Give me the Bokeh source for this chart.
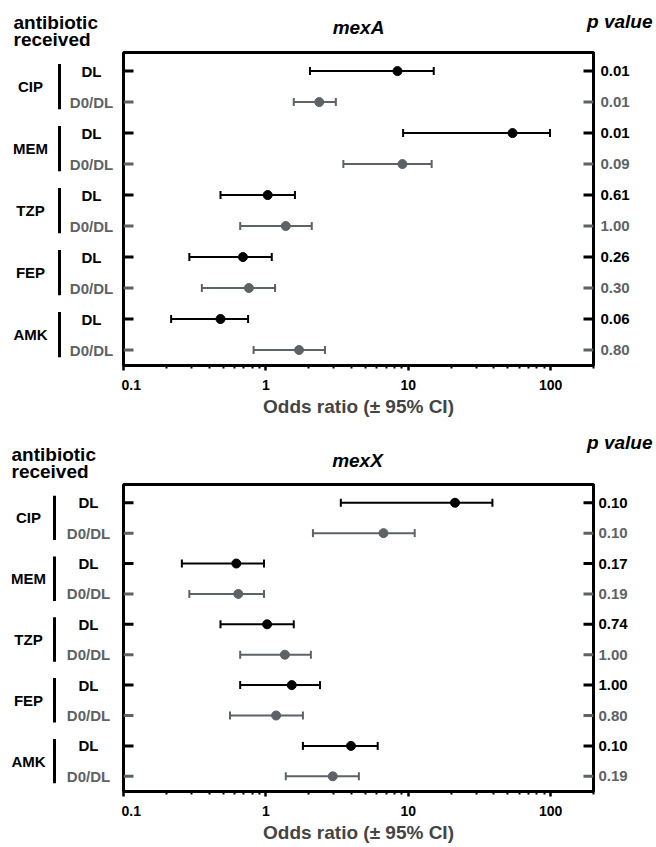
import math
from bokeh.plotting import figure
from bokeh.layouts import column, row
from bokeh.models import ColumnDataSource, Range1d, Whisker, TeeHead, FixedTicker
from bokeh.core.properties import value
from bokeh.embed import file_html
from bokeh.resources import INLINE

# ---------------- data ----------------
groups = ["CIP", "MEM", "TZP", "FEP", "AMK"]
row_labels = ["DL", "D0/DL", "DL", "D0/DL", "DL", "D0/DL", "DL", "D0/DL", "DL", "D0/DL"]

mexA_or = [8.4, 2.37, 54.0, 9.1, 1.03, 1.38, 0.69, 0.76, 0.48, 1.71]
mexA_lo = [2.04, 1.57, 9.2, 3.5, 0.48, 0.66, 0.29, 0.355, 0.216, 0.82]
mexA_hi = [15.1, 3.1, 99.0, 14.6, 1.6, 2.1, 1.1, 1.16, 0.75, 2.6]
mexA_p = ["0.01", "0.01", "0.01", "0.09", "0.61", "1.00", "0.26", "0.30", "0.06", "0.80"]

mexX_or = [21.3, 6.7, 0.62, 0.64, 1.02, 1.36, 1.52, 1.18, 3.96, 2.95]
mexX_lo = [3.36, 2.14, 0.257, 0.29, 0.48, 0.66, 0.66, 0.56, 1.82, 1.38]
mexX_hi = [39.0, 11.1, 0.97, 0.97, 1.57, 2.07, 2.4, 1.82, 6.1, 4.5]
mexX_p = ["0.10", "0.10", "0.17", "0.19", "0.74", "1.00", "1.00", "0.80", "0.10", "0.19"]

x_ticks = [0.1, 1, 10, 100]
x_tick_labels = ["0.1", "1", "10", "100"]
x_minor = [m * t for t in x_ticks for m in range(2, 10)]

# ---------------- style ----------------
FONT = "Liberation Sans"
BLACK = "#000000"
GRAY = "#5d6266"
W_TOTAL = 656
W_LAB, W_MAIN, W_PV = 121, 474, 61
B_TOP, B_BOT = 2, 55
X_LO, X_HI = 0.1, 200
Y_TOP, Y_BOT = -0.6, 9.5

rows_y = list(range(len(row_labels)))
row_colors = [BLACK if r == "DL" else GRAY for r in row_labels]


def base_fig(**kw):
    p = figure(toolbar_location=None, output_backend="svg", **kw)
    p.background_fill_color = "white"
    p.border_fill_color = "white"
    return p


def header(h, gene, x_anti, y_anti, y_rec, x_gene, y_gene, x_p, y_p):
    p = base_fig(width=W_TOTAL, height=h, x_range=Range1d(0, W_TOTAL), y_range=Range1d(h, 0),
                 x_axis_location=None, y_axis_location=None, min_border=0,
                 min_border_left=0, min_border_right=0, min_border_top=0, min_border_bottom=0)
    p.outline_line_color = None
    p.grid.visible = False
    common = dict(text_font=value(FONT), text_font_size="19px", text_color=BLACK, text_baseline="middle")
    p.text(x=[x_anti, x_anti], y=[y_anti, y_rec], text=["antibiotic", "received"], text_align="left",
           text_font_style="bold", **common)
    p.text(x=[x_gene], y=[y_gene], text=[gene], text_align="center",
           text_font_style="bold italic", **common)
    p.text(x=[x_p], y=[y_p], text=["p value"], text_align="right",
           text_font_style="bold italic", **common)
    return p


def panel(ors, los, his, pvals, frame_h, gx, bx, lx, px):
    H = B_TOP + frame_h + B_BOT
    yr = Range1d(Y_BOT, Y_TOP)

    # ----- left label column -----
    lab = base_fig(width=W_LAB, height=H, x_range=Range1d(0, W_LAB), y_range=yr,
                   x_axis_location=None, y_axis_location=None, min_border=0,
                   min_border_left=0, min_border_right=0, min_border_top=B_TOP, min_border_bottom=B_BOT)
    lab.outline_line_color = None
    lab.grid.visible = False
    gy = [2 * i + 0.5 for i in range(len(groups))]
    lab.text(x=[gx] * len(groups), y=gy, text=groups, text_align="center", text_baseline="middle",
             text_font=value(FONT), text_font_style="bold", text_font_size="15px", text_color=BLACK)
    lab.segment(x0=[bx] * len(groups), x1=[bx] * len(groups),
                y0=[2 * i - 0.23 for i in range(len(groups))],
                y1=[2 * i + 1.23 for i in range(len(groups))],
                line_color=BLACK, line_width=3)
    lsrc = ColumnDataSource(dict(y=rows_y, t=row_labels, c=row_colors, x=[lx] * len(rows_y)))
    lab.text(x="x", y="y", text="t", text_color="c", source=lsrc, text_align="center",
             text_baseline="middle", text_font=value(FONT), text_font_style="bold", text_font_size="15px")

    # ----- main forest plot -----
    p = base_fig(width=W_MAIN, height=H, x_axis_type="log", x_range=Range1d(X_LO, X_HI), y_range=yr,
                 y_axis_location=None, min_border_left=2, min_border_right=2,
                 min_border_top=B_TOP, min_border_bottom=B_BOT)
    p.outline_line_color = BLACK
    p.outline_line_width = 3
    p.grid.visible = False
    ax = p.xaxis[0]
    ax.ticker = FixedTicker(ticks=x_ticks, minor_ticks=x_minor)
    ax.major_label_overrides = {t: l for t, l in zip(x_ticks, x_tick_labels)}
    ax.axis_line_width = 3
    ax.axis_line_color = BLACK
    ax.major_tick_line_width = 2.5
    ax.minor_tick_line_width = 2
    ax.major_tick_in = 0
    ax.major_tick_out = 5
    ax.minor_tick_in = 0
    ax.minor_tick_out = 3
    ax.major_label_standoff = 9
    ax.major_label_text_font = FONT
    ax.major_label_text_font_style = "bold"
    ax.major_label_text_font_size = "14px"
    ax.major_label_text_color = BLACK
    ax.axis_label = "Odds ratio (\u00b1 95% CI)"
    ax.axis_label_text_font = FONT
    ax.axis_label_text_font_style = "bold"
    ax.axis_label_text_font_size = "19px"
    ax.axis_label_standoff = 3

    tsrc = ColumnDataSource(dict(y=rows_y, xl=[X_LO] * len(rows_y), xr=[X_HI] * len(rows_y), c=row_colors))
    p.ray(x="xl", y="y", length=10, length_units="screen", angle=0, line_color="c", line_width=3, source=tsrc)
    p.ray(x="xr", y="y", length=10, length_units="screen", angle=math.pi, line_color="c", line_width=3, source=tsrc)

    for kind, col in (("DL", BLACK), ("D0/DL", GRAY)):
        idx = [i for i, r in enumerate(row_labels) if r == kind]
        src = ColumnDataSource(dict(y=[rows_y[i] for i in idx], o=[ors[i] for i in idx],
                                    lo=[los[i] for i in idx], hi=[his[i] for i in idx]))
        w = Whisker(source=src, base="y", lower="lo", upper="hi", dimension="width",
                    line_color=col, line_width=2,
                    lower_head=TeeHead(size=8, line_color=col, line_width=2),
                    upper_head=TeeHead(size=8, line_color=col, line_width=2))
        p.add_layout(w)
        p.scatter(x="o", y="y", source=src, size=9, fill_color=col, line_color=col)

    # ----- p-value column -----
    pv = base_fig(width=W_PV, height=H, x_range=Range1d(0, W_PV), y_range=yr,
                  x_axis_location=None, y_axis_location=None, min_border=0,
                  min_border_left=0, min_border_right=0, min_border_top=B_TOP, min_border_bottom=B_BOT)
    pv.outline_line_color = None
    pv.grid.visible = False
    psrc = ColumnDataSource(dict(y=rows_y, t=pvals, c=row_colors, x=[px] * len(rows_y)))
    pv.text(x="x", y="y", text="t", text_color="c", source=psrc, text_align="left",
            text_baseline="middle", text_font=value(FONT), text_font_style="bold", text_font_size="15px")

    return row(lab, p, pv, spacing=0)


h1 = header(50, "mexA", 13, 22, 39, 358, 27, 652, 21)
r1 = panel(mexA_or, mexA_lo, mexA_hi, mexA_p, 313, 30, 59, 91, 5)
h2 = header(62, "mexX", 11, 34, 51, 357, 40, 652, 22)
r2 = panel(mexX_or, mexX_lo, mexX_hi, mexX_p, 307, 28, 54, 88, 3)

layout = column(h1, r1, h2, r2, spacing=0)
open("out.html", "w").write(file_html(layout, INLINE))
